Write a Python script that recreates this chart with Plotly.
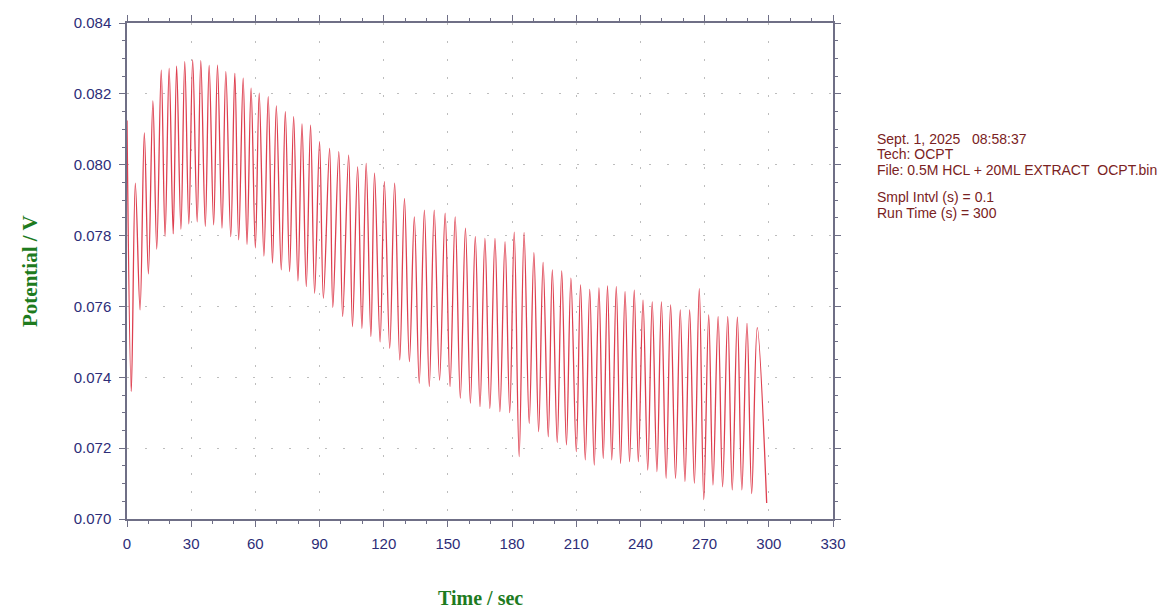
import plotly.graph_objects as go

# ---- data (extrema of the oscillating potential) ----
start_time = [0.0]
start_value = [0.08125]

peak_times = [3.9, 8.1, 12.1, 16.0, 19.7, 23.2, 27.0, 30.7, 34.5, 38.4,
              42.3, 46.2, 50.4, 54.3, 58.0, 61.8, 66.0, 69.8, 74.0, 77.9,
              81.8, 85.8, 90.0, 94.7, 99.0, 103.6, 107.8, 111.8, 115.7, 120.3,
              125.1, 129.7, 134.3, 139.0, 143.6, 148.7, 153.4, 158.2, 162.8, 167.3,
              172.0, 176.7, 181.0, 185.6, 190.2, 194.5, 198.8, 203.2, 207.5, 212.0,
              216.3, 220.6, 224.6, 228.7, 232.8, 237.1, 241.2, 245.5, 249.8, 254.1,
              258.6, 263.0, 267.5, 271.9, 276.3, 280.8, 285.3, 289.8, 294.6]
peak_values = [0.07948, 0.08090, 0.08180, 0.08267, 0.08272, 0.08278, 0.08291, 0.08296, 0.08294, 0.08280,
               0.08281, 0.08263, 0.08258, 0.08244, 0.08216, 0.08202, 0.08192, 0.08166, 0.08150, 0.08136,
               0.08115, 0.08112, 0.08065, 0.08046, 0.08037, 0.08027, 0.07994, 0.08004, 0.07976, 0.07952,
               0.07948, 0.07905, 0.07853, 0.07872, 0.07872, 0.07863, 0.07853, 0.07821, 0.07797, 0.07792,
               0.07792, 0.07783, 0.07810, 0.07808, 0.07752, 0.07724, 0.07703, 0.07700, 0.07680, 0.07661,
               0.07648, 0.07652, 0.07658, 0.07656, 0.07642, 0.07646, 0.07618, 0.07613, 0.07613, 0.07604,
               0.07590, 0.07590, 0.07650, 0.07576, 0.07571, 0.07571, 0.07570, 0.07552, 0.07540]

trough_times = [2.0, 6.1, 10.0, 13.9, 17.8, 21.6, 25.2, 28.9, 32.8, 36.6,
                40.5, 44.4, 48.5, 52.2, 56.1, 60.0, 64.0, 68.0, 72.1, 76.0,
                79.9, 83.8, 87.7, 91.8, 96.2, 100.8, 105.4, 109.8, 114.0, 118.3,
                122.8, 127.5, 132.0, 136.6, 141.3, 146.1, 151.0, 155.8, 160.5, 165.0,
                169.6, 174.3, 178.9, 183.3, 188.0, 192.4, 196.9, 201.1, 205.4, 210.0,
                214.2, 218.4, 222.6, 226.6, 230.7, 234.9, 239.0, 243.4, 247.7, 252.0,
                256.4, 260.8, 265.2, 269.6, 273.9, 278.4, 282.9, 287.4, 292.0, 299.0]
trough_values = [0.07360, 0.07590, 0.07692, 0.07762, 0.07798, 0.07805, 0.07818, 0.07833, 0.07839, 0.07826,
                 0.07830, 0.07821, 0.07797, 0.07788, 0.07775, 0.07765, 0.07742, 0.07722, 0.07703, 0.07698,
                 0.07672, 0.07656, 0.07637, 0.07623, 0.07597, 0.07571, 0.07543, 0.07538, 0.07515, 0.07500,
                 0.07482, 0.07449, 0.07444, 0.07383, 0.07374, 0.07392, 0.07374, 0.07341, 0.07327, 0.07317,
                 0.07312, 0.07303, 0.07300, 0.07176, 0.07270, 0.07247, 0.07232, 0.07216, 0.07209, 0.07190,
                 0.07167, 0.07152, 0.07171, 0.07167, 0.07157, 0.07162, 0.07162, 0.07138, 0.07134, 0.07115,
                 0.07115, 0.07106, 0.07101, 0.07055, 0.07096, 0.07091, 0.07082, 0.07082, 0.07072, 0.07045]

info_lines = ["Sept. 1, 2025\u00a0\u00a0\u00a008:58:37",
              "Tech: OCPT",
              "File: 0.5M HCL + 20ML EXTRACT\u00a0\u00a0OCPT.bin",
              "Smpl Intvl (s) = 0.1",
              "Run Time (s) = 300"]
info_y_px = [139, 154, 170, 197, 213]

# merge extrema in time order
pts = sorted(list(zip(start_time, start_value)) +
             list(zip(peak_times, peak_values)) +
             list(zip(trough_times, trough_values)))
t_all = [p[0] for p in pts]
v_all = [p[1] for p in pts]

fig = go.Figure()
fig.add_trace(go.Scatter(x=t_all, y=v_all, mode="lines",
                         line=dict(color="#de3f4f", width=1.3, shape="spline", smoothing=1.0),
                         hoverinfo="x+y", showlegend=False))

axis_common = dict(
    showline=True, linecolor="#6f6f86", linewidth=1.5, mirror="ticks",
    ticks="outside", ticklen=6, tickcolor="#6f6f86", tickwidth=1,
    showgrid=True, gridcolor="#bdbdbd", gridwidth=1, griddash="2px,16px",
    zeroline=False, automargin=False,
    tickfont=dict(family="Liberation Sans, Arial, sans-serif", size=15, color="#2d2d78"),
)

fig.update_xaxes(range=[0, 330], tick0=0, dtick=30, ticklabelstandoff=4,
                 minor=dict(dtick=10, ticks="outside", ticklen=3, tickcolor="#6f6f86", showgrid=False),
                 **axis_common)
fig.update_yaxes(range=[0.070, 0.084], tick0=0.070, dtick=0.002, tickformat=".3f",
                 ticklabelstandoff=5,
                 minor=dict(dtick=0.0005, ticks="outside", ticklen=3, tickcolor="#6f6f86", showgrid=False),
                 **axis_common)

annotations = [
    dict(text="<b>Potential / V</b>", xref="paper", yref="paper", x=0, y=0.5,
         xanchor="center", yanchor="middle", xshift=-97, textangle=-90, showarrow=False,
         font=dict(family="Liberation Serif, Times New Roman, serif", size=21, color="#1e7b1e")),
    dict(text="<b>Time / sec</b>", xref="paper", yref="paper", x=0.5, y=0,
         xanchor="center", yanchor="middle", yshift=-79, showarrow=False,
         font=dict(family="Liberation Serif, Times New Roman, serif", size=20, color="#1e7b1e")),
]
for line, ypx in zip(info_lines, info_y_px):
    annotations.append(dict(text=line, xref="paper", yref="paper", x=1, y=1,
                            xanchor="left", yanchor="middle", xshift=42, yshift=-(ypx - 23),
                            showarrow=False, align="left",
                            font=dict(family="Liberation Sans, Arial, sans-serif", size=14,
                                      color="#7a2222")))

# the page places the figure 8px in from the top-left corner
fig.update_layout(
    width=1160, height=600,
    margin=dict(l=119, r=335, t=15, b=89, autoexpand=False),
    paper_bgcolor="white", plot_bgcolor="white",
    annotations=annotations,
    showlegend=False,
)

fig.write_html("out.html")
